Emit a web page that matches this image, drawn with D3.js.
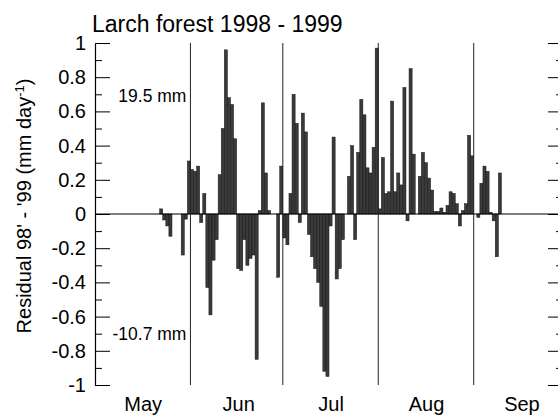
<!DOCTYPE html>
<html>
<head>
<meta charset="utf-8">
<script src="https://cdn.jsdelivr.net/npm/d3@7"></script>
<style>
	body { margin: 0; background: #fff; }
	svg { font-family: Arial, 'Liberation Sans', sans-serif; }
</style>
</head>
<body>
<div id="chart"></div>
<script>
// daily residuals 1998 - 1999 (mm/day)
const dates = [
	'05-22', '05-23', '05-24', '05-25', '05-29', '05-30', '05-31',
	'06-01', '06-02', '06-03', '06-04', '06-05', '06-06', '06-07', '06-08', '06-09', '06-10',
	'06-11', '06-12', '06-13', '06-14', '06-15', '06-16', '06-17', '06-18', '06-19', '06-20',
	'06-21', '06-22', '06-23', '06-24', '06-25', '06-26', '06-29', '06-30',
	'07-01', '07-02', '07-03', '07-04', '07-05', '07-06', '07-07', '07-08', '07-09', '07-10',
	'07-11', '07-12', '07-13', '07-14', '07-15', '07-16', '07-17', '07-18', '07-19', '07-20',
	'07-22', '07-23', '07-24', '07-25', '07-26', '07-27', '07-28', '07-29', '07-30', '07-31',
	'08-01', '08-02', '08-03', '08-04', '08-05', '08-06', '08-07', '08-08', '08-09', '08-10',
	'08-11', '08-12', '08-14', '08-15', '08-16', '08-17', '08-18', '08-19', '08-20',
	'08-21', '08-22', '08-23', '08-24', '08-25', '08-26', '08-27', '08-28', '08-29', '08-30', '08-31',
	'09-02', '09-03', '09-04', '09-05', '09-06', '09-07', '09-08', '09-09'
];
const residual = [
	0.03, -0.035, -0.07, -0.13, -0.24, -0.03, 0.31,
	0.26, 0.25, 0.28, -0.05, 0.12, -0.43, -0.59, -0.27, -0.15, 0.23,
	0.50, 0.96, 0.68, 0.64, 0.44, -0.32, -0.33, -0.15, -0.30, -0.26,
	-0.24, -0.85, 0.02, 0.65, 0.24, 0.02, -0.37, 0.28,
	-0.14, -0.18, 0.12, 0.70, 0.53, -0.05, 0.59, 0.48, -0.12, -0.25,
	-0.32, -0.40, -0.54, -0.92, -0.95, -0.07, 0.45, -0.38, -0.32, -0.15,
	0.22, 0.40, -0.15, 0.36, 0.67, 0.58, 0.27, 0.24, 0.39, 0.97,
	0.03, 0.33, 0.12, 0.13, 0.66, 0.13, 0.24, 0.17, 0.74, -0.04,
	0.85, 0.35, 0.22, 0.36, 0.30, 0.21, 0.14, 0.015, 0.015,
	0.035, 0.01, 0.05, 0.13, 0.12, 0.06, -0.07, 0.02, 0.06, 0.46, 0.34,
	-0.02, 0.18, 0.28, 0.25, 0.01, -0.04, -0.25, 0.24
];
const monthLabels = ['May', 'Jun', 'Jul', 'Aug', 'Sep'];
const monthStarts = ['06-01', '07-01', '08-01', '09-01'];
const yTicks = [-1, -0.8, -0.6, -0.4, -0.2, 0, 0.2, 0.4, 0.6, 0.8, 1];
const totals = [
	{ label: '19.5 mm', value: 0.655 },
	{ label: '-10.7 mm', value: -0.737 }
];

const parse = d3.timeParse('%Y-%m-%d');
const day = s => parse('1999-' + s);

const data = dates.map((d, i) => ({ date: day(d), value: residual[i] }));

const margin = {
	"top": 43,
	"right": -5,
	"bottom": 32,
	"left": 95
};
const width = 558 - margin.left - margin.right;
const height = 417 - margin.top - margin.bottom;

const svg = d3.select('#chart').append('svg')
	.attr('width', 558)
	.attr('height', 417);

const graph = svg.append('g')
	.attr('transform', `translate(${margin.left},${margin.top})`);

const x = d3.scaleTime().domain([day('05-01'), day('09-30')]).range([0, width]);
const y = d3.scaleLinear().domain([-1, 1]).range([height, 0]);

// bars
graph.append('g')
	.selectAll()
	.data(data)
	.enter().append('rect')
	.attr('x', d => x(d.date))
	.attr('width', d => x(d3.timeDay.offset(d.date, 1)) - x(d.date))
	.attr('y', d => y(Math.max(0, d.value)))
	.attr('height', d => Math.abs(y(d.value) - y(0)))
	.attr('fill', '#3a3a3a')
	.attr('stroke', '#151515')
	.attr('stroke-width', 0.5);

// zero line
graph.append('line')
	.attr('x1', 0).attr('x2', width)
	.attr('y1', y(0)).attr('y2', y(0))
	.attr('stroke', '#000')
	.attr('stroke-width', 1.2);

// month separators
graph.append('g')
	.selectAll()
	.data(monthStarts)
	.enter().append('line')
	.attr('x1', d => x(day(d))).attr('x2', d => x(day(d)))
	.attr('y1', y(1)).attr('y2', y(-1))
	.attr('stroke', '#222')
	.attr('stroke-width', 1);

const fmt = d => String(+d.toFixed(1));
const minor = d3.range(-0.9, 1, 0.2);

// left axis, ticks pointing inward
graph.append('g')
	.call(d3.axisLeft(y).tickValues(yTicks).tickFormat(fmt).tickSizeInner(-15).tickSizeOuter(0).tickPadding(9))
	.call(g => g.selectAll('text').attr('font-size', '20px').attr('font-family', 'Arial, Liberation Sans, sans-serif'))
	.call(g => g.select('.domain').attr('stroke-width', 1.2));
graph.append('g')
	.call(d3.axisLeft(y).tickValues(minor).tickFormat('').tickSize(-7))
	.call(g => g.select('.domain').remove());

// right axis (sits just past the window edge)
graph.append('g')
	.attr('transform', `translate(${width},0)`)
	.call(d3.axisRight(y).tickValues(yTicks).tickFormat('').tickSizeInner(-15).tickSizeOuter(0))
graph.append('g')
	.attr('transform', `translate(${width},0)`)
	.call(d3.axisRight(y).tickValues(minor).tickFormat('').tickSize(-7))
	.call(g => g.select('.domain').remove());

// month labels in the middle of each month
graph.append('g')
	.attr('transform', `translate(0,${height})`)
	.call(d3.axisBottom(x)
		.tickValues(monthLabels.map((m, i) => d3.timeHour.offset(day(String(i + 5).padStart(2, '0') + '-16'), 12)))
		.tickFormat((d, i) => monthLabels[i])
		.tickSize(0).tickPadding(12))
	.call(g => g.select('.domain').remove())
	.call(g => g.selectAll('text').attr('font-size', '20px').attr('font-family', 'Arial, Liberation Sans, sans-serif'));

// season totals
graph.append('g')
	.selectAll()
	.data(totals)
	.enter().append('text')
	.attr('x', x(day('06-01')) - 4)
	.attr('y', d => y(d.value))
	.attr('text-anchor', 'end')
	.attr('font-size', '17.5px')
	.text(d => d.label);

// title
svg.append('text')
	.attr('x', 92)
	.attr('y', 32)
	.attr('font-size', '23px')
	.text('Larch forest 1998 - 1999');

// y label
const yl = svg.append('text')
	.attr('transform', 'translate(31,206) rotate(-90)')
	.attr('text-anchor', 'middle')
	.attr('font-size', '20px');
yl.append('tspan').text("Residual 98' - '99 (mm day");
yl.append('tspan').attr('font-size', '13px').attr('dy', '-7').text('-1');
yl.append('tspan').attr('dy', '7').text(')');
</script>
</body>
</html>
